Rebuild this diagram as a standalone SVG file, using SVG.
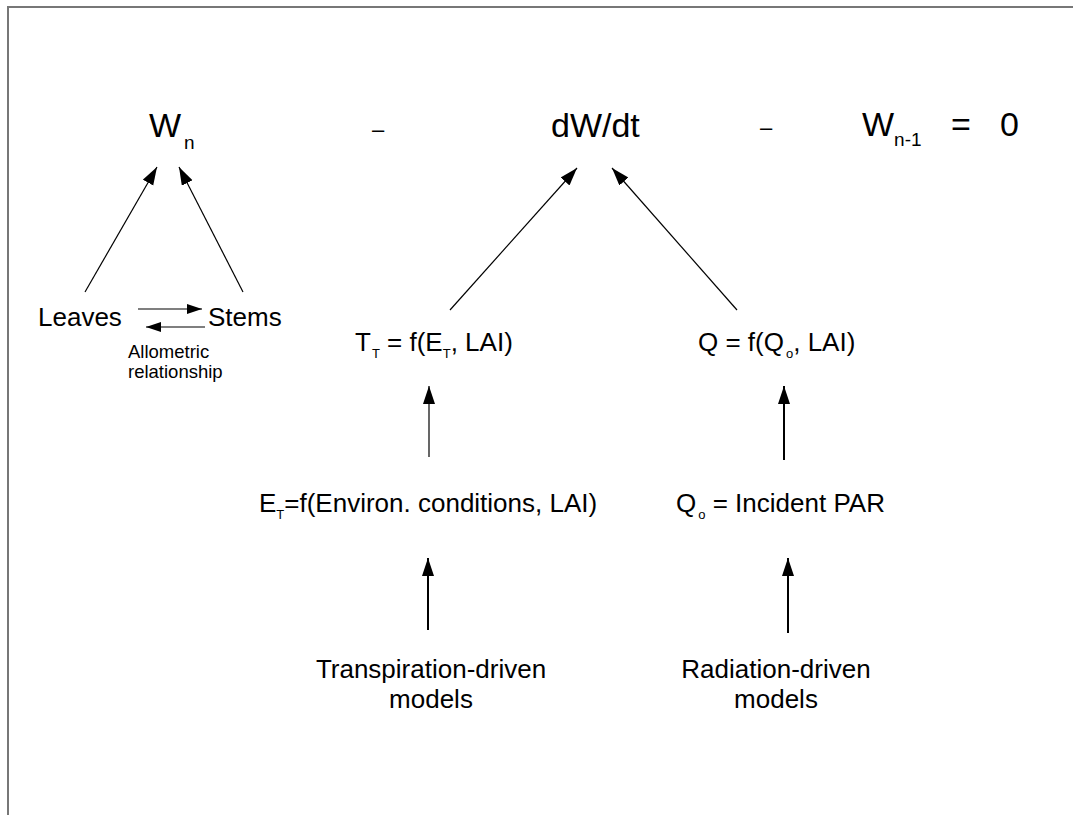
<svg xmlns="http://www.w3.org/2000/svg" width="1073" height="815" viewBox="0 0 1073 815">
<style>
text{font-family:"Liberation Sans",Arial,sans-serif;fill:#000}
.eq{font-size:34px}
.lb{font-size:26px}
.sm{font-size:18.5px}
.sub{font-size:13px}
.c{stroke:#000;stroke-width:1.2;fill:none}
.c2{stroke:#000;stroke-width:2;fill:none}
</style>
<defs>
<marker id="ah" markerUnits="userSpaceOnUse" markerWidth="19" markerHeight="13" refX="18" refY="6" orient="auto" viewBox="0 0 19 13"><path d="M0,0 L18,6 L0,12 z" fill="#000"/></marker>
<marker id="as" markerUnits="userSpaceOnUse" markerWidth="16" markerHeight="11" refX="15" refY="5" orient="auto" viewBox="0 0 16 11"><path d="M0,0 L15,5 L0,10 z" fill="#000"/></marker>
</defs>
<rect width="1073" height="815" fill="#fff"/>
<path d="M8,815 L8,7 L1073,7" stroke="#777" stroke-width="2" fill="none"/>
<g id="equation">
<text class="eq" x="149" y="137">W<tspan font-size="19" dx="3" dy="12">n</tspan></text>
<text x="372" y="137" font-size="22">–</text>
<text class="eq" x="551" y="137">dW/dt</text>
<text x="760" y="135" font-size="22">–</text>
<text class="eq" x="862" y="136">W<tspan font-size="19" dx="0" dy="10">n-1</tspan></text>
<text class="eq" x="951" y="136">=</text>
<text class="eq" x="1000" y="136">0</text>
</g>
<g id="leaves"><text class="lb" x="38" y="326">Leaves</text></g>
<g id="stems"><text class="lb" x="208" y="326">Stems</text></g>
<g id="allometric"><text class="sm" x="128" y="358">Allometric</text><text class="sm" x="128" y="378">relationship</text></g>
<g id="tt"><text class="lb" x="355" y="351">T<tspan class="sub" dx="1" dy="7">T</tspan><tspan dy="-7"> = f(E</tspan><tspan class="sub" dy="7">T</tspan><tspan dy="-7">, LAI)</tspan></text></g>
<g id="q"><text class="lb" x="698" y="351">Q = f(Q<tspan class="sub" dx="2" dy="7">o</tspan><tspan dy="-7">, LAI)</tspan></text></g>
<g id="et"><text class="lb" x="259" y="512">E<tspan class="sub" dy="7">T</tspan><tspan dy="-7">=f(Environ. conditions, LAI)</tspan></text></g>
<g id="qo"><text class="lb" x="676" y="512">Q<tspan class="sub" dx="2" dy="7">o</tspan><tspan dy="-7"> = Incident PAR</tspan></text></g>
<g id="transp"><text class="lb" x="431" y="678" text-anchor="middle">Transpiration-driven</text><text class="lb" x="431" y="708" text-anchor="middle">models</text></g>
<g id="rad"><text class="lb" x="776" y="678" text-anchor="middle">Radiation-driven</text><text class="lb" x="776" y="708" text-anchor="middle">models</text></g>
<g id="connectors">
<line class="c" x1="85" y1="292" x2="157" y2="167" marker-end="url(#ah)"/>
<line class="c" x1="243" y1="292" x2="179" y2="167" marker-end="url(#ah)"/>
<line class="c" x1="450" y1="310" x2="577" y2="168" marker-end="url(#ah)"/>
<line class="c" x1="737" y1="310" x2="612" y2="168" marker-end="url(#ah)"/>
<line class="c" x1="429" y1="457" x2="429" y2="386" marker-end="url(#ah)"/>
<line class="c2" x1="784" y1="460" x2="784" y2="386" marker-end="url(#ah)"/>
<line class="c2" x1="428" y1="630" x2="428" y2="558" marker-end="url(#ah)"/>
<line class="c2" x1="788" y1="633" x2="788" y2="558" marker-end="url(#ah)"/>
<line class="c" x1="138" y1="309" x2="202" y2="309" marker-end="url(#as)"/>
<line class="c" x1="205" y1="327" x2="146" y2="327" marker-end="url(#as)"/>
</g>
</svg>
